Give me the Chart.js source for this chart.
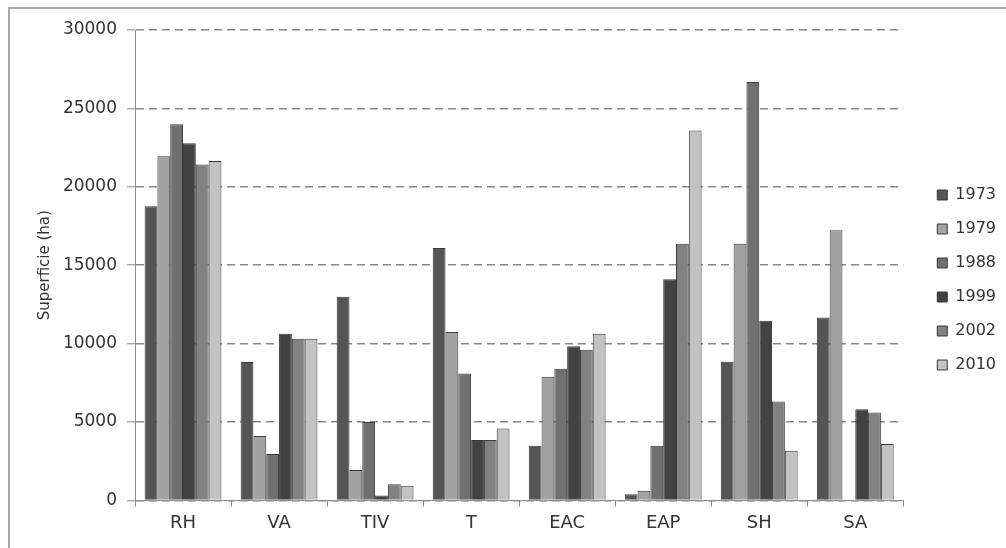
<!DOCTYPE html>
<html>
<head>
<meta charset="utf-8">
<script src="https://cdn.jsdelivr.net/npm/chart.js@4"></script>
<style>
  html, body { margin: 0; padding: 0; background: #fff; }
  #wrap { position: relative; width: 1006px; height: 548px; overflow: hidden; }
  #frame { position: absolute; left: 8px; top: 7px; width: 1010px; height: 600px;
           border-top: 2px solid #a8a8a8; border-left: 2px solid #a8a8a8; box-sizing: border-box; }
  canvas { position: absolute; left: 0; top: 0; }
</style>
</head>
<body>
<div id="wrap">
  <div id="frame"></div>
  <canvas id="c" width="1006" height="548"></canvas>
</div>
<script>
const categories = ['RH', 'VA', 'TIV', 'T', 'EAC', 'EAP', 'SH', 'SA'];
const years = ['1973', '1979', '1988', '1999', '2002', '2010'];
const v1973 = [18760, 8820, 12980, 16090, 3480, 400, 8840, 11670];
const v1979 = [21950, 4100, 1940, 10740, 7890, 610, 16370, 17230];
const v1988 = [23990, 2960, 5000, 8100, 8390, 3480, 26690, null];
const v1999 = [22770, 10630, 320, 3860, 9830, 14100, 11460, 5810];
const v2002 = [21430, 10310, 1030, 3860, 9610, 16370, 6300, 5600];
const v2010 = [21640, 10310, 930, 4580, 10630, 23590, 3160, 3590];
const yTicks = [0, 5000, 10000, 15000, 20000, 25000, 30000];

const seriesValues = [v1973, v1979, v1988, v1999, v2002, v2010];
const fills = ['#555555', '#a2a2a2', '#707070', '#424242', '#828282', '#c2c2c2'];

const legendShift = {
  id: 'legendShift',
  beforeLayout(chart) {
    const lg = chart.legend;
    if (lg && !lg._patched) {
      const orig = lg.fit.bind(lg);
      lg.fit = function () { orig(); this.width += 16; };
      lg._patched = true;
    }
  },
  afterLayout(chart) {
    const lg = chart.legend;
    if (lg) { lg.left += 16; lg.top -= 5; lg.bottom -= 5; }
  }
};

new Chart(document.getElementById('c'), {
  type: 'bar',
  data: {
    labels: categories,
    datasets: years.map((y, i) => ({
      label: y,
      data: seriesValues[i],
      backgroundColor: fills[i],
      borderColor: '#3a3a3a',
      borderWidth: 1,
      categoryPercentage: 0.8,
      barPercentage: 1.0
    }))
  },
  options: {
    responsive: false,
    animation: false,
    devicePixelRatio: 1,
    layout: { padding: { left: 0, top: 30, right: 0, bottom: 8 } },
    plugins: {
      legend: {
        position: 'right',
        labels: {
          boxWidth: 10, boxHeight: 10, padding: 18,
          color: '#333',
          font: { family: 'DejaVu Sans', size: 16 }
        }
      },
      tooltip: { enabled: false }
    },
    scales: {
      x: {
        grid: { offset: true, drawOnChartArea: false, drawTicks: true, tickLength: 6, color: '#8c8c8c' },
        border: { display: true, color: '#8c8c8c', width: 1 },
        ticks: { color: '#333', padding: 6, font: { family: 'DejaVu Sans', size: 18 } }
      },
      y: {
        min: 0, max: 30000,
        afterFit(scale) { scale.width = 135; },
        afterBuildTicks(scale) { scale.ticks = yTicks.map(v => ({ value: v })); },
        grid: { color: '#888888', tickBorderDash: [], tickColor: '#888888', tickLength: 8, lineWidth: 1.5, tickWidth: 1 },
        border: { display: true, color: '#8c8c8c', width: 1, dash: [8, 5] },
        ticks: { color: '#333', padding: 10, font: { family: 'DejaVu Sans', size: 17 },
                 callback: (v) => String(v) },
        title: { display: true, text: 'Superficie (ha)', color: '#333', padding: { top: 36, bottom: 0 }, font: { family: 'DejaVu Sans', size: 15 } }
      }
    }
  },
  plugins: [legendShift]
});
</script>
</body>
</html>
